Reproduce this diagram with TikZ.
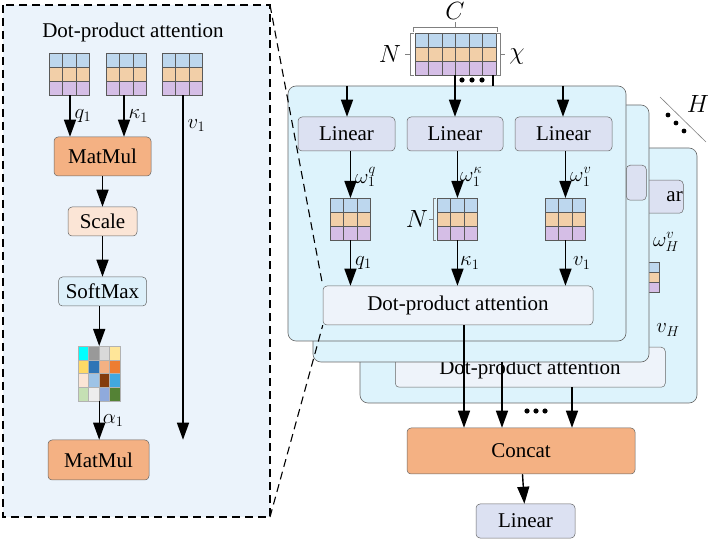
\documentclass[tikz,border=0pt]{standalone}
\usepackage{fontspec}
\setmainfont{Liberation Serif}
\usetikzlibrary{arrows.meta}
\definecolor{cb}{HTML}{BDD7EE}
\definecolor{co}{HTML}{F2CFA8}
\definecolor{cp}{HTML}{D5BEE6}
\definecolor{leftbg}{HTML}{EBF3FB}
\definecolor{panelbg}{HTML}{DDF3FC}
\definecolor{orangebox}{HTML}{F4B183}
\definecolor{scalebox}{HTML}{FBE5D6}
\definecolor{softbox}{HTML}{DDF0FA}
\definecolor{linbox}{HTML}{DCE1F2}
\definecolor{dpbox}{HTML}{EEF3FA}
\newcommand\qkvmat[5]{%
 \node[inner sep=0,minimum width=#4*13.5,minimum height=42,anchor=north west] (#1) at (#2,#3) {};
 \foreach \r/\cl in {0/cb,1/co,2/cp}{
  \foreach \c in {1,...,#4}{
   \draw[draw=gray!70!black,line width=0.5pt,fill=\cl] (#2+\c*13.5-13.5,#3+\r*14) rectangle ++(13.5,14);}}}
\begin{document}
\begin{tikzpicture}[x=1pt,y=-1pt,
 txt/.style={font=\fontsize{21}{23}\selectfont},
 box/.style={draw=gray!80!black,rounded corners=4pt,line width=0.5pt,inner sep=0,txt},
 arr/.style={line width=1.4pt,-{Triangle[length=17pt,width=12pt]}},
 lbl/.style={font=\fontsize{22}{23}\selectfont,inner sep=1pt},
 big/.style={font=\fontsize{24}{24}\selectfont,inner sep=1pt},
 panel/.style={draw=gray!80!black,fill=panelbg,rounded corners=8pt,line width=0.6pt}]
\useasboundingbox (0,0) rectangle (713,545);
% ---------- left box
\fill[leftbg] (3,5) rectangle (270,517);
\draw[dashed,line width=1.3pt,dash pattern=on 8pt off 5pt] (3,5) rectangle (270,517);
\node[txt] (title) at (133,32) {Dot-product attention};
\qkvmat{lq}{49}{53}{3}{}
\qkvmat{lk}{106}{53}{3}{}
\qkvmat{lv}{162}{53}{3}{}
\node[box,fill=orangebox,minimum width=97,minimum height=39] (mm1) at (102.5,156.5) {MatMul};
\node[box,fill=scalebox,minimum width=69,minimum height=29] (sc) at (102.5,221.5) {Scale};
\node[box,fill=softbox,minimum width=88,minimum height=29] (sm) at (102.5,291.5) {SoftMax};
\node[inner sep=0,minimum width=42,minimum height=55,anchor=north west] (grid) at (78,346) {};
\foreach \cl [count=\i from 0] in {00FFFF,999999,D9D9D9,FFE699,FFD966,2E75B6,F4B183,ED7D31,FBE5D6,9DC3E6,843C0C,41A8E0,C5E0B4,EDEDED,8FAADC,548235}{
 \pgfmathtruncatemacro\cc{mod(\i,4)}\pgfmathtruncatemacro\rr{div(\i,4)}
 \definecolor{tmpc}{HTML}{\cl}
 \draw[draw=gray!60,line width=0.3pt,fill=tmpc] (78+\cc*10.5,346+\rr*13.75) rectangle ++(10.5,13.75);}
\node[box,fill=orangebox,minimum width=101,minimum height=40] (mm2) at (98.5,460) {MatMul};
\draw[arr] (lq.south -| 70,0) -- (mm1.north -| 70,0) node[lbl,midway,right=3pt] {$q_1$};
\draw[arr] (lk.south -| 124,0) -- (mm1.north -| 124,0) node[lbl,midway,right=3pt] {$\kappa_1$};
\draw[line width=1.4pt] (lv.south -| 183,0) -- ++(0,30) node[lbl,right=3pt] {$v_1$};
\draw[arr] (lv.south -| 183,0) -- (mm2.north -| 183,0);
\draw[arr] (mm1) -- (sc);
\draw[arr] (sc) -- (sm);
\draw[arr] (sm.south -| grid) -- (grid.north);
\draw[arr] (grid.south) -- (mm2.north -| grid) node[lbl,midway,right=2pt] {$\alpha_1$};
% ---------- back panels
\draw[panel] (360,148) rectangle (697,403);
\node[box,fill=linbox,minimum width=55,minimum height=33,anchor=north west] (lin3) at (628,180) {};
\node[txt,anchor=east,inner sep=0] at (683,196.5) {ar};
\node[box,fill=dpbox,minimum width=270,minimum height=40,anchor=north west] (dp3) at (395,347) {};
\node[txt,anchor=center] at (530,369) {Dot-product attention};
\node[lbl] at (666,242) {$\omega_H^v$};
\foreach \r/\cl in {0/cb,1/co,2/cp} \draw[draw=gray!70!black,line width=0.5pt,fill=\cl] (647,262+\r*10) rectangle ++(12,10);
\node[lbl] at (668,330) {$v_H$};
\draw[panel] (313,105) rectangle (649,362);
\node[box,fill=linbox,minimum width=20,minimum height=35,anchor=north west] (lin2) at (626,165) {};
\draw[panel] (288,86) rectangle (626,341);
% H marker
\draw[gray,line width=0.6pt] (660,97) -- (706,142);
\foreach \k in {0,1,2} \fill (668+\k*8,115+\k*8) circle (2.4pt);
\node[big] (H) at (698,104) {$H$};
% ---------- input X
\qkvmat{X}{415}{33}{6}{}
\draw[gray,line width=0.6pt] (413,32) -- (413,27) -- (497,27) -- (497,32);
\draw[gray,line width=0.6pt] (455,27) -- (455,22);
\node[big] at (455,11) {$C$};
\draw[gray,line width=0.6pt] (414,33) -- (410,33) -- (410,75) -- (414,75);
\draw[gray,line width=0.6pt] (410,54) -- (405,54);
\node[big] at (390,54) {$N$};
\draw[gray,line width=0.6pt] (496,33) -- (500,33) -- (500,75) -- (496,75);
\draw[gray,line width=0.6pt] (500,54) -- (505,54);
\node[big] at (517,57) {$\chi$};
\foreach \k in {0,1,2} \fill (462+\k*10,80) circle (2.6pt);
\draw[line width=1.4pt] (493,75) -- (493,86);
% front panel contents
\node[box,fill=linbox,minimum width=97,minimum height=34] (l1) at (346.5,134) {Linear};
\node[box,fill=linbox,minimum width=96,minimum height=34] (l2) at (455,134) {Linear};
\node[box,fill=linbox,minimum width=97,minimum height=34] (l3) at (563.5,134) {Linear};
\draw[arr] (347,86) -- (l1.north -| 347,0);
\draw[arr] (X.south -| 455,0) -- (l2.north);
\draw[arr] (563,86) -- (l3.north -| 563,0);
\qkvmat{m1}{330}{198}{3}{}
\qkvmat{m2}{437}{198}{3}{}
\qkvmat{m3}{545}{198}{3}{}
\draw[gray,line width=0.6pt] (436,198) -- (433,198) -- (433,240) -- (436,240);
\draw[gray,line width=0.6pt] (433,219) -- (429,219);
\node[big] at (417,219) {$N$};
\draw[arr] (l1.south -| m1) -- (m1.north) node[lbl,pos=0.55,right=3pt] {$\omega_1^q$};
\draw[arr] (l2.south -| m2) -- (m2.north) node[lbl,pos=0.55,right=1pt] {$\omega_1^\kappa$};
\draw[arr] (l3.south -| m3) -- (m3.north) node[lbl,pos=0.55,right=3pt] {$\omega_1^v$};
\node[box,fill=dpbox,minimum width=270,minimum height=39] (dp1) at (458,305.5) {Dot-product attention};
\draw[arr] (m1.south) -- (dp1.north -| m1) node[lbl,midway,right=3pt] {$q_1$};
\draw[arr] (m2.south) -- (dp1.north -| m2) node[lbl,midway,right=1pt] {$\kappa_1$};
\draw[arr] (m3.south) -- (dp1.north -| m3) node[lbl,midway,right=6pt] {$v_1$};
% dashed zoom lines
\draw[dashed,line width=1.1pt,dash pattern=on 8pt off 5pt] (270,5) -- (dp1.north west);
\draw[dashed,line width=1.1pt,dash pattern=on 8pt off 5pt] (270,517) -- (dp1.south west);
% concat
\node[box,fill=orangebox,minimum width=228,minimum height=46] (cc) at (521,451) {Concat};
\draw[arr] (dp1.south -| 464,0) -- (cc.north -| 464,0);
\draw[arr] (502,362) -- (cc.north -| 502,0);
\draw[arr] (dp3.south -| 572,0) -- (cc.north -| 572,0);
\foreach \k in {0,1,2} \fill (527+\k*9,411) circle (2.6pt);
\node[box,fill=linbox,minimum width=99,minimum height=34] (lo) at (525.5,521) {Linear};
\draw[arr] (cc) -- (lo);
\end{tikzpicture}
\end{document}
